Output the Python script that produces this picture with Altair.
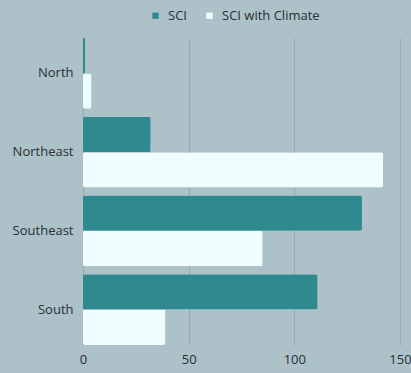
import altair as alt
import pandas as pd

regions = ["North", "Northeast", "Southeast", "South"]
series = ["SCI", "SCI with Climate"]
sci = [1, 32, 132, 111]
sci_climate = [4, 142, 85, 39]

rows = []
for r, a, b in zip(regions, sci, sci_climate):
    rows.append({"region": r, "series": series[0], "value": a})
    rows.append({"region": r, "series": series[1], "value": b})
df = pd.DataFrame(rows)

FONT = "Open Sans"
TXT = "#2a2f33"

chart = alt.Chart(df).mark_bar(cornerRadius=2).encode(
    y=alt.Y("region:N", sort=regions, title=None,
            scale=alt.Scale(paddingInner=0.1, paddingOuter=0),
            axis=alt.Axis(domain=False, ticks=False, labelPadding=10,
                          labelFontSize=13, labelColor=TXT, labelFont=FONT)),
    yOffset=alt.YOffset("series:N", sort=series),
    x=alt.X("value:Q", title=None,
            scale=alt.Scale(domain=[0, 150], nice=False),
            axis=alt.Axis(values=[0, 50, 100, 150], domain=False, ticks=False,
                          grid=True, gridColor="#98acb4", gridWidth=1.2,
                          labelPadding=8, labelFontSize=13, labelColor=TXT,
                          labelFont=FONT, labelFlush=False)),
    color=alt.Color("series:N", sort=series, title=None,
                    scale=alt.Scale(domain=series, range=["#2e8a8e", "#f0fdff"]),
                    legend=alt.Legend(orient="none", direction="horizontal",
                                      legendX=66, legendY=-29, symbolType="square",
                                      symbolSize=40, symbolStrokeWidth=0,
                                      labelFontSize=13, labelColor=TXT, labelFont=FONT,
                                      columnPadding=16, labelOffset=6)),
).properties(
    width=317, height=307,
    background="#adc1c8",
    padding={"left": 83, "top": 38, "right": 11, "bottom": 28},
    autosize=alt.AutoSizeParams(type="none"),
).configure_view(stroke=None)

chart.save("out.html", embed_options={"renderer": "svg", "actions": False})
